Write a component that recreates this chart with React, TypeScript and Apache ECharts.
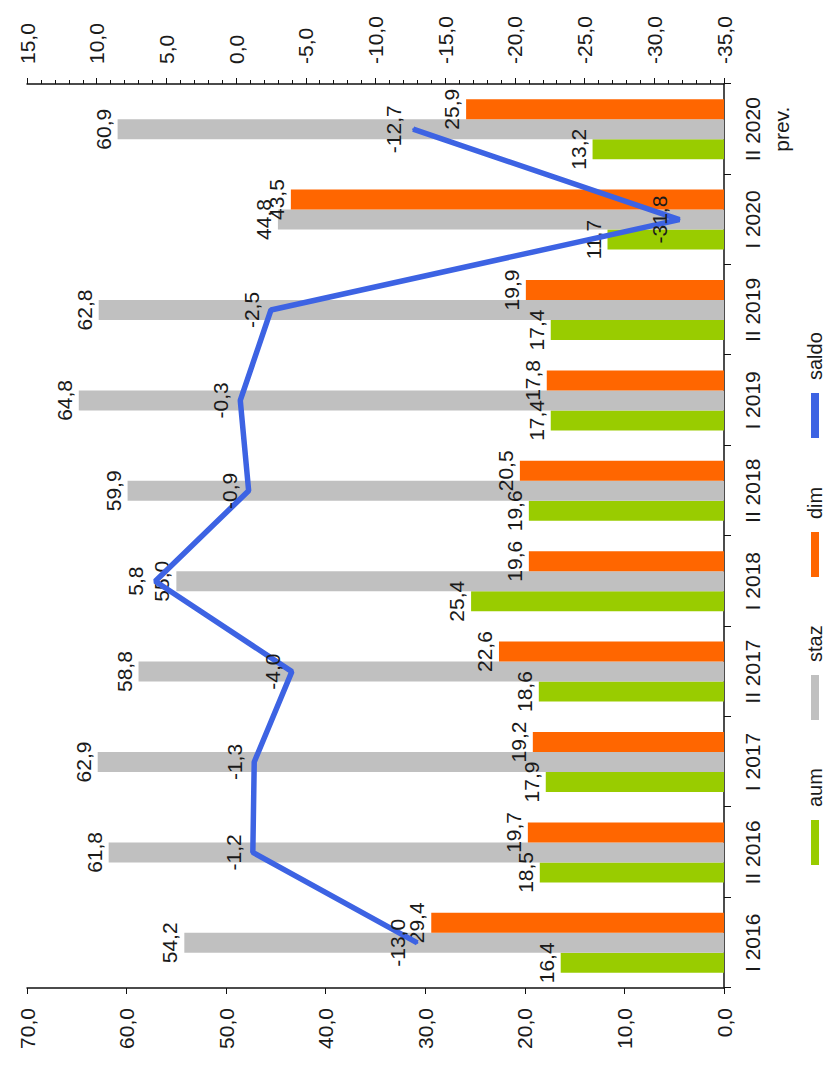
import React, { useEffect, useRef } from "react";
import * as echarts from "echarts";

const categories = [
  "I 2016",
  "II 2016",
  "I 2017",
  "II 2017",
  "I 2018",
  "II 2018",
  "I 2019",
  "II 2019",
  "I 2020",
  "II 2020\nprev.",
];
const aum = [16.4, 18.5, 17.9, 18.6, 25.4, 19.6, 17.4, 17.4, 11.7, 13.2];
const staz = [54.2, 61.8, 62.9, 58.8, 55.0, 59.9, 64.8, 62.8, 44.8, 60.9];
const dim = [29.4, 19.7, 19.2, 22.6, 19.6, 20.5, 17.8, 19.9, 43.5, 25.9];
const saldo = [-13.0, -1.2, -1.3, -4.0, 5.8, -0.9, -0.3, -2.5, -31.8, -12.7];
const seriesNames = ["aum", "staz", "dim", "saldo"];

const FONT = "'Liberation Sans', Arial, sans-serif";
const FS = 21;
const TXT = "#1a1a1a";
const fmt = (v: number) => v.toFixed(1).replace(".", ",");

export default function App() {
  const ref = useRef<HTMLDivElement>(null);
  useEffect(() => {
    if (!ref.current) return;
    const chart = echarts.init(ref.current, undefined, { renderer: "svg" });
    const barLabel = {
      show: true,
      position: "top",
      distance: 4,
      fontSize: FS,
      fontFamily: FONT,
      color: TXT,
      formatter: (p: any) => fmt(p.value),
    };
    const legendLefts = [205, 350, 493, 632];
    const colors = ["#99cc00", "#c0c0c0", "#ff6600", "#3d63e3"];
    chart.setOption({
      animation: false,
      backgroundColor: "#ffffff",
      textStyle: { fontFamily: FONT },
      grid: { left: 82, right: 84, top: 27, bottom: 105, outerBoundsMode: "none" },
      legend: seriesNames.map((name, i) => ({
        data: [{ name, icon: "rect", itemStyle: { color: colors[i] } }],
        left: legendLefts[i],
        top: 804,
        padding: 0,
        itemWidth: 45,
        itemHeight: 8,
        textStyle: {
          fontSize: 20,
          fontFamily: FONT,
          color: TXT,
          lineHeight: 22,
          padding: [0, 0, 0, 8],
        },
      })),
      xAxis: {
        type: "category",
        data: categories,
        axisLine: { show: true, lineStyle: { color: "#111", width: 1.5 } },
        axisTick: { show: true, interval: 0, length: 7, lineStyle: { color: "#111" } },
        axisLabel: {
          interval: 0,
          margin: 14,
          fontSize: FS,
          lineHeight: 29,
          fontFamily: FONT,
          color: TXT,
        },
      },
      yAxis: [
        {
          type: "value",
          min: 0,
          max: 70,
          interval: 10,
          splitLine: { show: false },
          axisLine: { show: true, lineStyle: { color: "#111", width: 1.5 } },
          axisTick: { show: true, length: 6, lineStyle: { color: "#111" } },
          axisLabel: {
            margin: 20,
            fontSize: FS,
            fontFamily: FONT,
            color: TXT,
            formatter: (v: number) => fmt(v),
          },
        },
        {
          type: "value",
          min: -35,
          max: 15,
          interval: 5,
          splitLine: { show: false },
          axisLine: { show: true, lineStyle: { color: "#111", width: 1.5 } },
          axisTick: { show: true, length: 6, lineStyle: { color: "#111" } },
          minorTick: { show: true, splitNumber: 5, length: 4, lineStyle: { color: "#111" } },
          minorSplitLine: { show: false },
          axisLabel: {
            margin: 20,
            fontSize: FS,
            fontFamily: FONT,
            color: TXT,
            formatter: (v: number) => fmt(v),
          },
        },
      ],
      series: [
        {
          name: "aum",
          type: "bar",
          data: aum,
          barWidth: 20,
          barGap: "0%",
          itemStyle: { color: colors[0] },
          label: barLabel,
        },
        {
          name: "staz",
          type: "bar",
          data: staz,
          barWidth: 20,
          barGap: "0%",
          itemStyle: { color: colors[1] },
          label: barLabel,
        },
        {
          name: "dim",
          type: "bar",
          data: dim,
          barWidth: 20,
          barGap: "0%",
          itemStyle: { color: colors[2] },
          label: barLabel,
        },
        {
          name: "saldo",
          type: "line",
          yAxisIndex: 1,
          data: saldo,
          symbol: "circle",
          symbolSize: 2,
          showSymbol: true,
          lineStyle: { color: colors[3], width: 5.5 },
          itemStyle: { color: colors[3] },
          label: { ...barLabel, distance: 8 },
          z: 5,
        },
      ],
    });
    return () => chart.dispose();
  }, []);
  return (
    <div
      style={{
        position: "absolute",
        left: 0,
        top: 0,
        width: 829,
        height: 1070,
        overflow: "hidden",
        background: "#fff",
      }}
    >
      <div
        ref={ref}
        style={{
          position: "absolute",
          left: 0,
          top: 0,
          width: 1070,
          height: 829,
          transformOrigin: "0 0",
          transform: "translateY(1070px) rotate(-90deg)",
        }}
      />
    </div>
  );
}
